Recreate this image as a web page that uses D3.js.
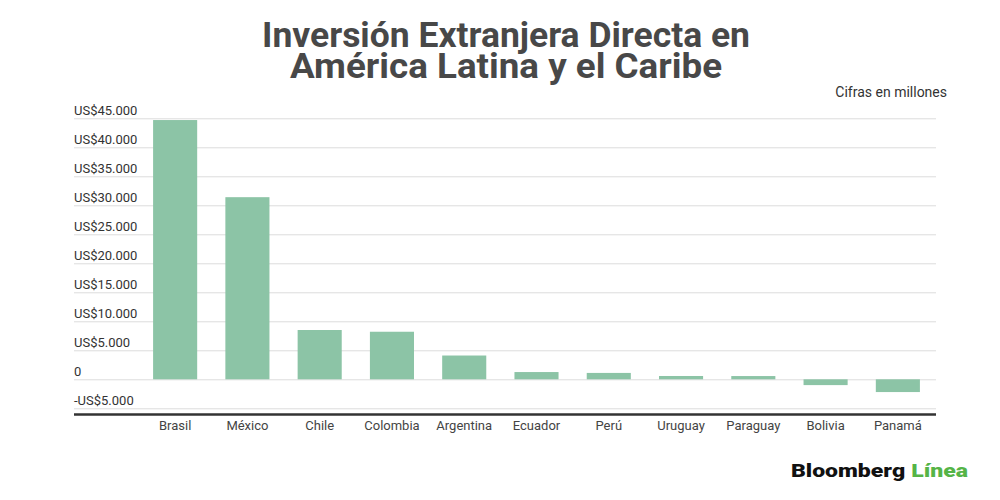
<!DOCTYPE html>
<html>
<head>
<meta charset="utf-8">
<script src="https://cdn.jsdelivr.net/npm/d3@7"></script>
<style>
  body { margin: 0; background: #fff; }
  text { font-family: Roboto, "Noto Sans", sans-serif; }
</style>
</head>
<body>
<div id="chart"></div>
<script>
// Data (millions of US$)
const countries = ["Brasil", "México", "Chile", "Colombia", "Argentina", "Ecuador",
                   "Perú", "Uruguay", "Paraguay", "Bolivia", "Panamá"];
const investment = [44700, 31400, 8500, 8200, 4100, 1250, 1100, 570, 560, -1000, -2200];
const yTicks = [-5000, 0, 5000, 10000, 15000, 20000, 25000, 30000, 35000, 40000, 45000];

const width = 1000, height = 500;
const plot = { left: 74, right: 936, bandLeft: 139, bandRight: 934, baseline: 414.5 };

const svg = d3.select("#chart").append("svg")
    .attr("width", width)
    .attr("height", height);

const x = d3.scaleBand()
    .domain(countries)
    .range([plot.bandLeft, plot.bandRight])
    .paddingInner(0.39)
    .paddingOuter(0.195);

const y = d3.scaleLinear()
    .domain([-5000, 45000])
    .range([408.3, 118.3]);

const fmt = v => {
    if (v === 0) return "0";
    const s = d3.format(",")(Math.abs(v)).replace(/,/g, ".");
    return (v < 0 ? "-" : "") + "US$" + s;
};

// Title (condensed look: squeeze a larger bold face)
const title = svg.append("g").attr("fill", "#484848")
    .attr("font-weight", 700).attr("font-size", 35).attr("text-anchor", "middle");
title.append("text").attr("x", 506).attr("y", 47)
    .attr("textLength", 488).attr("lengthAdjust", "spacingAndGlyphs")
    .text("Inversión Extranjera Directa en");
title.append("text").attr("x", 506).attr("y", 78)
    .attr("textLength", 432).attr("lengthAdjust", "spacingAndGlyphs")
    .text("América Latina y el Caribe");

svg.append("text")
    .attr("x", 947).attr("y", 97)
    .attr("text-anchor", "end")
    .attr("font-size", 14).attr("fill", "#333")
    .text("Cifras en millones");

// Gridlines and tick labels
const yAxis = svg.append("g")
    .attr("transform", `translate(${plot.left},0)`)
    .call(d3.axisRight(y)
        .tickValues(yTicks)
        .tickSize(plot.right - plot.left)
        .tickFormat(fmt));
yAxis.select(".domain").remove();
yAxis.selectAll(".tick line").attr("stroke", "#dcdcdc").attr("stroke-width", 1);
yAxis.selectAll(".tick text")
    .attr("x", 0).attr("dy", -4)
    .attr("text-anchor", "start")
    .attr("font-family", "Roboto, sans-serif")
    .attr("font-size", 13).attr("fill", "#333")
    .attr("dominant-baseline", "auto");

// Bars
svg.append("g")
    .selectAll("rect")
    .data(investment)
    .join("rect")
    .attr("x", (d, i) => x(countries[i]))
    .attr("width", x.bandwidth())
    .attr("y", d => y(Math.max(0, d)))
    .attr("height", d => Math.abs(y(d) - y(0)))
    .attr("fill", "#8cc4a6");

// Baseline axis with category labels
const xAxis = svg.append("g")
    .attr("transform", `translate(0,${plot.baseline})`)
    .call(d3.axisBottom(x).tickSize(0).tickPadding(6));
xAxis.select(".domain")
    .attr("d", `M${plot.left},0H${plot.right}`)
    .attr("stroke", "#333").attr("stroke-width", 2.5);
xAxis.selectAll(".tick text")
    .attr("font-family", "Roboto, sans-serif")
    .attr("font-size", 13).attr("fill", "#444");

// Logo
const logo = svg.append("text")
    .attr("x", 791).attr("y", 477)
    .attr("font-family", "Roboto, sans-serif")
    .attr("font-size", 19).attr("font-weight", 900);
logo.append("tspan").attr("fill", "#111").text("Bloomberg");
logo.append("tspan").attr("fill", "#55b447").attr("dx", 5).text("Línea");
logo.attr("textLength", 177).attr("lengthAdjust", "spacingAndGlyphs");
</script>
</body>
</html>
